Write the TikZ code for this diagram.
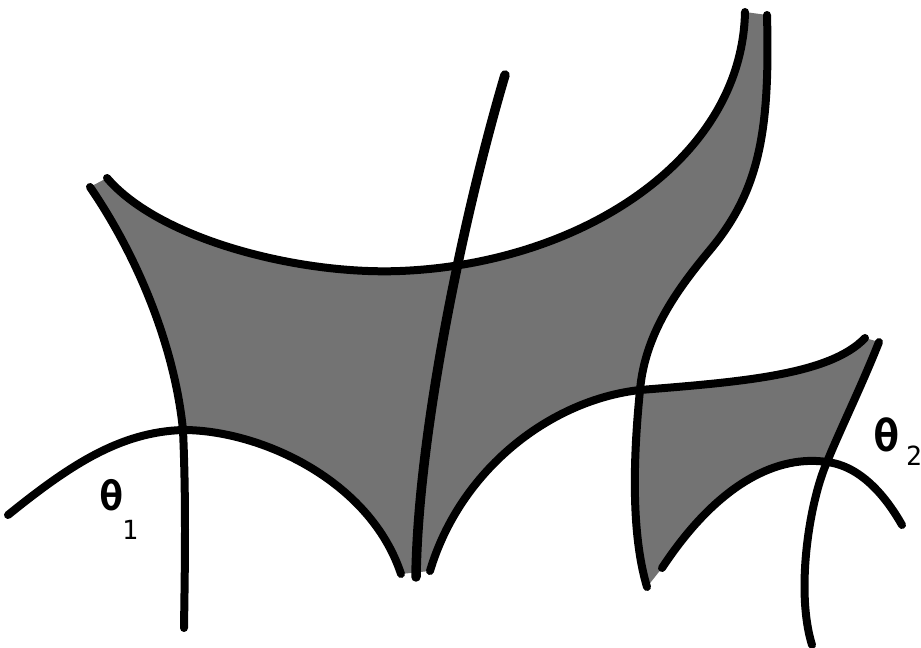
\documentclass[tikz,border=0pt]{standalone}
\usepackage{fontspec}
\newfontfamily\labfont{DejaVu Sans Mono}
\begin{document}
\begin{tikzpicture}[x=0.02cm,y=-0.02cm,
  edge/.style={line width=0.16cm, line cap=round, line join=round},
  thickedge/.style={edge, line width=0.19cm},
  shade/.style={fill=black!55},
  lab/.style={inner sep=0pt},
  bigtheta/.style={lab, font=\labfont\bfseries\fontsize{23}{23}\selectfont},
  smalltheta/.style={lab, font=\labfont\bfseries\fontsize{25}{25}\selectfont},
  subs/.style={lab, font=\labfont\fontsize{15}{15}\selectfont}]
\useasboundingbox (0,0) rectangle (921,648);
% key points
\coordinate (ulA) at (90,187);   % upper-left cusp, left stroke end
\coordinate (ulD) at (107,178);  % upper-left cusp, right stroke end
\coordinate (x1) at (183,430);   % crossing of theta1 arc and left line
\coordinate (bL) at (401,574);   % bottom cusp, left stroke end
\coordinate (bR) at (430,571);   % bottom cusp, right stroke end
\coordinate (x2) at (640,390);   % crossing of the two curves
\coordinate (trD) at (745,12);   % top-right cusp, left stroke end
\coordinate (trE) at (767,15);   % top-right cusp, right stroke end
\coordinate (eS) at (710,250);
\coordinate (eB) at (647,587);   % small region lower-left cusp, left stroke end
\coordinate (gS) at (662,568);   % small region lower-left cusp, right stroke end
\coordinate (x3) at (827,462);   % crossing of theta2 arc and right line
\coordinate (srF) at (879,342);  % small region cusp, right stroke end
\coordinate (srC) at (865,338);  % small region cusp, left stroke end
\coordinate (dM) at (400,271);
% big shaded region
\fill[shade] (ulA) .. controls (140,260) and (175,350) .. (x1)
 .. controls (260,430) and (370,480) .. (bL) -- (bR)
 .. controls (460,470) and (550,400) .. (x2)
 .. controls (645,335) and (675,292) .. (eS)
 .. controls (760,190) and (770,130) .. (trE) -- (trD)
 .. controls (742,160) and (580,264) .. (dM)
 .. controls (300,275) and (160,240) .. (ulD) -- cycle;
% small shaded region
\fill[shade] (x2) .. controls (634,450) and (630,530) .. (eB) -- (gS)
 .. controls (720,480) and (780,455) .. (x3)
 .. controls (840,430) and (862,385) .. (srF) -- (srC)
 .. controls (830,375) and (740,382) .. (x2) -- cycle;
% strokes
\coordinate (aEnd) at (184,628);
\coordinate (bStart) at (8,515);
\coordinate (fEnd) at (812,645);
\coordinate (gEnd) at (902,525);
\coordinate (hTop) at (505,75);
\coordinate (hBot) at (416,577);
\draw[edge] (ulA) .. controls (140,260) and (175,350) .. (x1)
  .. controls (186,500) and (185,560) .. (aEnd);
\draw[edge] (bStart) .. controls (70,465) and (120,432) .. (x1)
  .. controls (260,430) and (370,480) .. (bL);
\draw[edge] (bR) .. controls (460,470) and (550,400) .. (x2)
  .. controls (740,382) and (830,375) .. (srC);
\draw[edge] (ulD) .. controls (160,240) and (300,275) .. (dM)
  .. controls (580,264) and (742,160) .. (trD);
\draw[edge] (trE) .. controls (770,130) and (760,190) .. (eS)
  .. controls (675,292) and (645,335) .. (x2)
  .. controls (634,450) and (630,530) .. (eB);
\draw[edge] (srF) .. controls (862,385) and (840,430) .. (x3)
  .. controls (810,500) and (795,590) .. (fEnd);
\draw[edge] (gS) .. controls (720,480) and (780,455) .. (x3)
  .. controls (860,466) and (885,495) .. (gEnd);
\draw[thickedge] (hTop) .. controls (465,210) and (418,430) .. (hBot);
% labels
\node[bigtheta] (t1) at (112,495) {θ};
\node[subs] (s1) at (130,530) {1};
\node[smalltheta] (t2) at (887,435) {θ};
\node[subs] (s2) at (914,456) {2};
\end{tikzpicture}
\end{document}
